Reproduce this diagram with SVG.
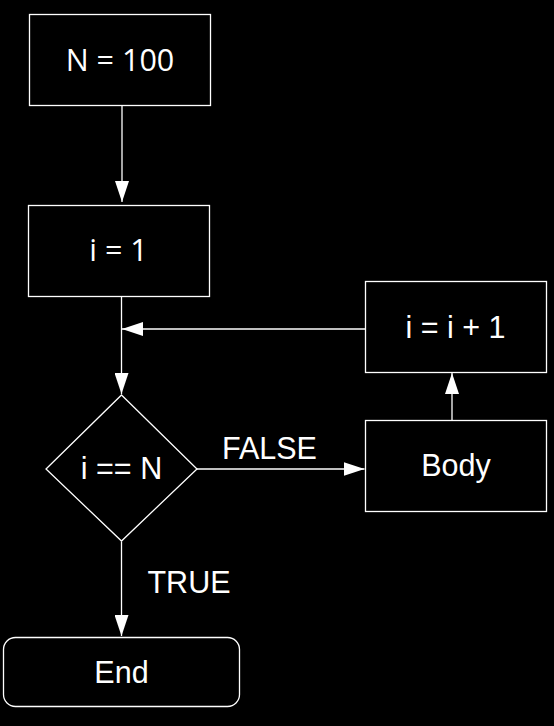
<svg xmlns="http://www.w3.org/2000/svg" width="554" height="726" viewBox="0 0 554 726">
<style>
.bg{fill:#000}
.shape{fill:#000;stroke:#fff;stroke-width:1.3}
.edge{fill:none;stroke:#fff;stroke-width:1.3}
.t{fill:#fff;font-family:"Liberation Sans",Arial,sans-serif;font-size:30.5px;text-anchor:middle}
.o{fill:#fff;font-family:"Open Sans","Noto Sans",sans-serif;font-size:30.5px;text-anchor:middle}
</style>
<defs>
<marker id="arr" viewBox="0 0 21 14" refX="21" refY="7" markerWidth="21" markerHeight="14" markerUnits="userSpaceOnUse" orient="auto">
<path d="M0,0 L21,7 L0,14 Z" fill="#fff"/>
</marker>
</defs>
<rect class="bg" x="0" y="0" width="554" height="726"/>
<g id="connectors">
<line class="edge" x1="122" y1="105.5" x2="122" y2="202" marker-end="url(#arr)"/>
<line class="edge" x1="121.5" y1="296.5" x2="121.5" y2="394" marker-end="url(#arr)"/>
<line class="edge" x1="365.5" y1="329" x2="122" y2="329" marker-end="url(#arr)"/>
<line class="edge" x1="197" y1="469" x2="364.5" y2="469" marker-end="url(#arr)"/>
<line class="edge" x1="452" y1="420.5" x2="452" y2="373" marker-end="url(#arr)"/>
<line class="edge" x1="121.5" y1="541.5" x2="121.5" y2="636" marker-end="url(#arr)"/>
<text class="t" x="269.5" y="459">FALSE</text>
<text class="t" x="189" y="593">TRUE</text>
</g>
<g id="n100">
<rect class="shape" x="29.5" y="14.5" width="181" height="91"/>
<text class="o" x="120" y="71">N = 100</text>
</g>
<g id="i1">
<rect class="shape" x="28.5" y="205.5" width="181" height="91"/>
<text class="o" x="118.5" y="261">i = 1</text>
</g>
<g id="inc">
<rect class="shape" x="365.5" y="281.5" width="181" height="91"/>
<text class="t" x="455.5" y="338">i = i + 1</text>
</g>
<g id="body">
<rect class="shape" x="365.5" y="420.5" width="181" height="91"/>
<text class="t" x="456" y="476">Body</text>
</g>
<g id="cond">
<polygon class="shape" points="121.5,395 197,469 121.5,541 46,469"/>
<text class="t" x="121.5" y="479">i == N</text>
</g>
<g id="end">
<rect class="shape" x="3.5" y="637.5" width="236" height="69" rx="12" ry="12"/>
<text class="t" x="121.5" y="682.5">End</text>
</g>
</svg>
